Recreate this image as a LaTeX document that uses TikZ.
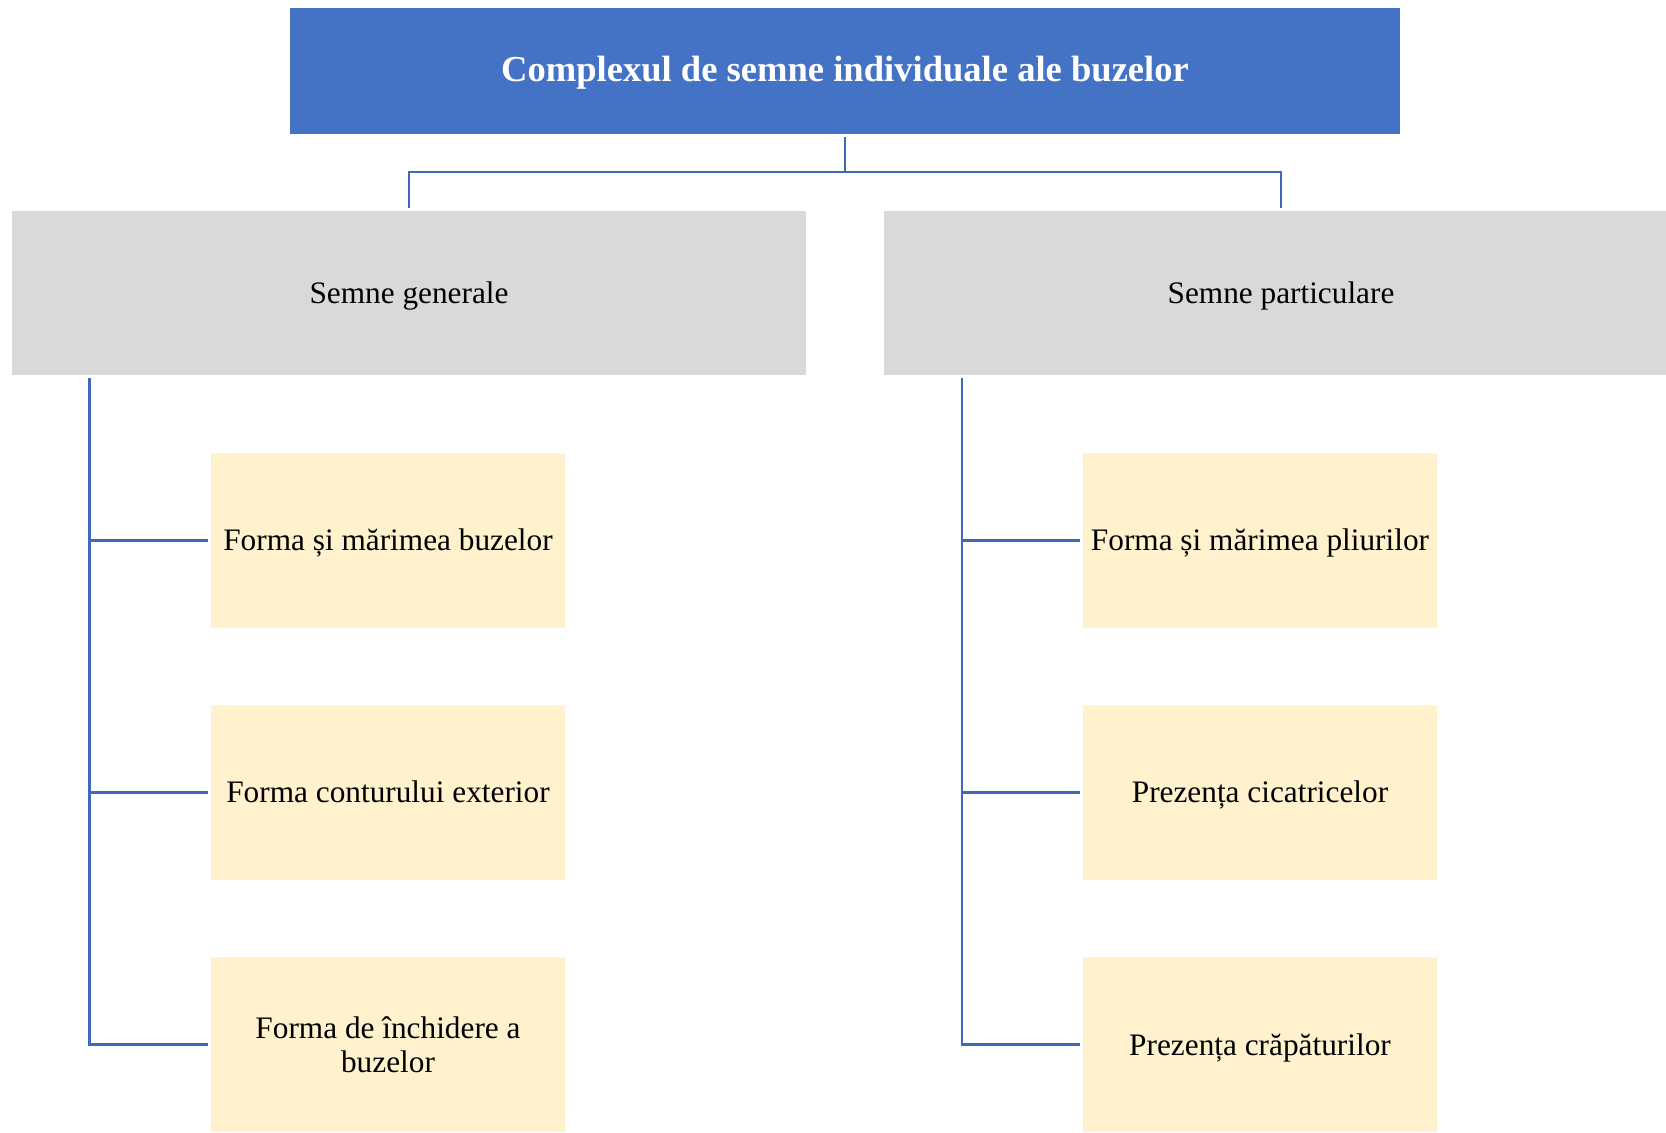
\documentclass[tikz,border=0pt]{standalone}
\usepackage{fontspec}
\setmainfont{Liberation Serif}
\usetikzlibrary{positioning}

\definecolor{titleblue}{HTML}{4472C4}
\definecolor{linkblue}{HTML}{4169BA}
\definecolor{groupgrey}{HTML}{D9D9D9}
\definecolor{itemyellow}{HTML}{FFF2CC}

\begin{document}
\begin{tikzpicture}[
    x=0.01cm, y=-0.01cm,
    % Styles
    one_line/.style={text height=0.75em, text depth=0.17em},
    title_box/.style={rectangle, fill=titleblue, text=white, minimum width=11.1cm, minimum height=1.26cm, inner sep=0pt, outer sep=0.03cm, one_line, font=\fontsize{10.4}{12.5}\selectfont\bfseries},
    group_box/.style={rectangle, fill=groupgrey, minimum width=7.94cm, minimum height=1.64cm, inner sep=0pt, outer sep=0.03cm, one_line, font=\fontsize{8.9}{10.7}\selectfont},
    item_box/.style={rectangle, fill=itemyellow, minimum width=3.54cm, minimum height=1.75cm, inner sep=0pt, outer sep=0.03cm, align=center, font=\fontsize{8.9}{9.8}\selectfont},
    link/.style={draw=linkblue, line width=0.75pt}
]
    \useasboundingbox (0,0) rectangle (1666,1132);

    % ==========================================
    % 1. TITLE & GROUPS
    % ==========================================
    \node[title_box] (title) at (845, 71) {Complexul de semne individuale ale buzelor};
    \node[group_box] (gen) at (409, 293) {Semne generale};
    \node[group_box] (part) at (1281, 293) {Semne particulare};

    % ==========================================
    % 2. ITEMS
    % ==========================================
    % General signs
    \node[item_box, one_line] (gen_1) at (388, 540.5) {Forma și mărimea buzelor};
    \node[item_box, one_line, below=0.71cm of gen_1] (gen_2) {Forma conturului exterior};
    \node[item_box, below=0.71cm of gen_2] (gen_3) {Forma de închidere a\\buzelor};

    % Particular signs
    \node[item_box, one_line] (part_1) at (1260, 540.5) {Forma și mărimea pliurilor};
    \node[item_box, one_line, below=0.71cm of part_1] (part_2) {Prezența cicatricelor};
    \node[item_box, one_line, below=0.71cm of part_2] (part_3) {Prezența crăpăturilor};

    % ==========================================
    % 3. CONNECTORS
    % ==========================================
    \draw[link] (title.south) -- ++(0,35) -| (gen.north);
    \draw[link] (title.south) -- ++(0,35) -| (part.north);

    \coordinate (spine_gen) at ([xshift=0.81cm]gen.south west);
    \coordinate (spine_part) at ([xshift=0.81cm]part.south west);

    \draw[link] (spine_gen) |- (gen_3.west);
    \draw[link] (spine_part) |- (part_3.west);
    \foreach \i in {1,2} {
        \draw[link] (spine_gen |- gen_\i.west) -- (gen_\i.west);
        \draw[link] (spine_part |- part_\i.west) -- (part_\i.west);
    }

\end{tikzpicture}
\end{document}
